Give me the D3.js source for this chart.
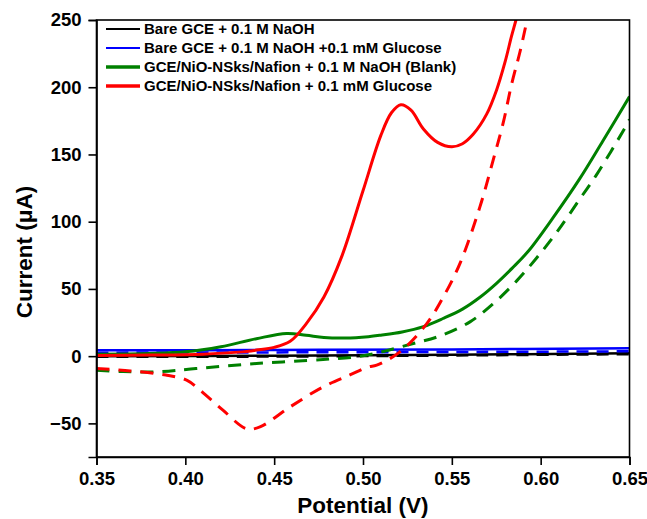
<!DOCTYPE html>
<html>
<head>
<meta charset="utf-8">
<script src="https://cdn.jsdelivr.net/npm/d3@7"></script>
<style>
  body { margin: 0; background: #fff; }
  svg { font-family: "Liberation Sans", Arial, sans-serif; font-weight: bold; }
</style>
</head>
<body>
<svg></svg>
<script>
// values (potential in V, current in uA)
var xTicks = [0.35, 0.40, 0.45, 0.50, 0.55, 0.60, 0.65];
var yTicks = [-50, 0, 50, 100, 150, 200, 250];

var blackSolidV = [0.35, 0.45, 0.55, 0.65];
var blackSolidI = [0.0, 0.3, 1.0, 2.2];
var blackDashV = [0.35, 0.45, 0.55, 0.65];
var blackDashI = [-0.5, -0.3, 0.5, 1.5];

var blueSolidV = [0.35, 0.45, 0.55, 0.65];
var blueSolidI = [4.3, 4.6, 5.0, 5.8];
var blueDashV = [0.35, 0.45, 0.55, 0.65];
var blueDashI = [2.6, 2.8, 3.1, 3.6];

var greenSolidV = [0.35, 0.38, 0.40, 0.42, 0.44, 0.457, 0.468, 0.478, 0.49, 0.503, 0.51, 0.522, 0.534, 0.545, 0.556, 0.566, 0.575, 0.584, 0.593, 0.607, 0.622, 0.635, 0.65];
var greenSolidI = [1.5, 2, 3.2, 7, 13, 16.9, 15.5, 13.9, 13.5, 14.5, 15.6, 18, 22, 28, 35, 44, 54, 65.5, 78, 103, 132, 160, 193];

var greenDashV = [0.35, 0.365, 0.384, 0.406, 0.44, 0.4776, 0.4964, 0.5114, 0.5283, 0.5433, 0.5602, 0.5733, 0.5865, 0.5977, 0.609, 0.6221, 0.6315, 0.6484, 0.65];
var greenDashI = [-10.4, -11.5, -11.7, -9.2, -5.5, -2.5, -0.5, 3.5, 9.4, 15, 25.5, 39, 56, 73, 92, 117, 135, 172, 176];

var redSolidV = [0.35, 0.38, 0.41, 0.43, 0.44, 0.45, 0.459, 0.468, 0.478, 0.488, 0.50, 0.51, 0.516, 0.5213, 0.527, 0.534, 0.542, 0.55, 0.556, 0.562, 0.5696, 0.5752, 0.58, 0.5836, 0.5861, 0.589];
var redSolidI = [0.5, 0.8, 1.5, 3, 4.5, 6.5, 11, 24, 44, 74, 123, 164, 181, 187, 183, 169, 159, 155.7, 158, 165, 180, 198, 219, 238, 250, 265];

var redDashV = [0.35, 0.369, 0.389, 0.401, 0.408, 0.421, 0.4345, 0.442, 0.459, 0.4776, 0.4926, 0.5029, 0.5077, 0.5208, 0.5358, 0.5452, 0.5546, 0.5658, 0.5733, 0.579, 0.5836, 0.5883, 0.5917, 0.595];
var redDashI = [-9.2, -11, -14, -18, -25, -40, -54, -52.6, -37.7, -22.8, -14, -8, -6.7, 3.2, 24, 44, 69, 111, 146, 174, 202, 226, 246, 265];

var legendLabels = [
  "Bare GCE + 0.1 M NaOH",
  "Bare GCE + 0.1 M NaOH +0.1 mM Glucose",
  "GCE/NiO-NSks/Nafion + 0.1 M NaOH (Blank)",
  "GCE/NiO-NSks/Nafion + 0.1 mM Glucose"
];
var legendColors = ["#000000", "#0000ff", "#008000", "#ff0000"];

var svgWidth = 647, svgHeight = 519;
var plotLeft = 96.5, plotRight = 629.5, plotTop = 20, plotBottom = 457;

var svg = d3.select("svg")
  .attr("width", svgWidth)
  .attr("height", svgHeight);

var x = d3.scaleLinear().domain([0.35, 0.65]).range([plotLeft, plotRight]);
var y = d3.scaleLinear().domain([-75, 250]).range([plotBottom, plotTop]);

svg.append("clipPath").attr("id", "plot")
  .append("rect")
  .attr("x", plotLeft).attr("y", plotTop)
  .attr("width", plotRight - plotLeft).attr("height", plotBottom - plotTop);

var line = d3.line()
  .x(function(d) { return x(d[0]); })
  .y(function(d) { return y(d[1]); })
  .curve(d3.curveCatmullRom.alpha(0.5));

var series = [
  {v: blackSolidV, i: blackSolidI, color: "#000000", w: 2.5, dash: null},
  {v: blackDashV, i: blackDashI, color: "#000000", w: 2.5, dash: "12,8"},
  {v: blueDashV, i: blueDashI, color: "#0000ff", w: 2.5, dash: "12,8"},
  {v: blueSolidV, i: blueSolidI, color: "#0000ff", w: 2.5, dash: null},
  {v: greenDashV, i: greenDashI, color: "#008000", w: 3, dash: "13,9"},
  {v: greenSolidV, i: greenSolidI, color: "#008000", w: 3, dash: null},
  {v: redDashV, i: redDashI, color: "#ff0000", w: 3, dash: "13,9"},
  {v: redSolidV, i: redSolidI, color: "#ff0000", w: 3, dash: null}
];

var g = svg.append("g").attr("clip-path", "url(#plot)");

g.selectAll("path")
  .data(series)
  .enter()
  .append("path")
  .attr("d", function(s) { return line(d3.zip(s.v, s.i)); })
  .attr("fill", "none")
  .attr("stroke", function(s) { return s.color; })
  .attr("stroke-width", function(s) { return s.w; })
  .attr("stroke-dasharray", function(s) { return s.dash; });

// frame
svg.append("rect")
  .attr("x", plotLeft).attr("y", plotTop)
  .attr("width", plotRight - plotLeft).attr("height", plotBottom - plotTop)
  .attr("fill", "none")
  .attr("stroke", "#000")
  .attr("stroke-width", 1.6);

var xAxis = svg.append("g")
  .attr("transform", "translate(0," + plotBottom + ")")
  .call(d3.axisBottom(x).tickValues(xTicks).tickFormat(d3.format(".2f")).tickSize(8).tickPadding(7));

var yAxis = svg.append("g")
  .attr("transform", "translate(" + plotLeft + ",0)")
  .call(d3.axisLeft(y).tickValues(yTicks).tickSize(8).tickPadding(7));

[xAxis, yAxis].forEach(function(a) {
  a.select(".domain").attr("stroke-width", 1.6);
  a.selectAll(".tick line").attr("stroke-width", 1.6);
  a.selectAll("text")
    .attr("font-family", "Liberation Sans, Arial, sans-serif")
    .attr("font-weight", "bold")
    .attr("font-size", 18.5)
    .attr("fill", "#000");
});

svg.append("text")
  .attr("x", (plotLeft + plotRight) / 2)
  .attr("y", 513)
  .attr("text-anchor", "middle")
  .attr("font-size", 22.5)
  .text("Potential (V)");

svg.append("text")
  .attr("transform", "translate(32,252) rotate(-90)")
  .attr("text-anchor", "middle")
  .attr("font-size", 22.5)
  .text("Current (\u03BCA)");

// legend
var legend = svg.append("g");
legendLabels.forEach(function(label, k) {
  var ly = 29 + k * 19;
  legend.append("line")
    .attr("x1", 106).attr("x2", 140)
    .attr("y1", ly).attr("y2", ly)
    .attr("stroke", legendColors[k])
    .attr("stroke-width", k < 2 ? 2 : 3.5);
  legend.append("text")
    .attr("x", 144)
    .attr("y", ly)
    .attr("dy", "0.36em")
    .attr("font-size", 15)
    .text(label);
});
</script>
</body>
</html>
